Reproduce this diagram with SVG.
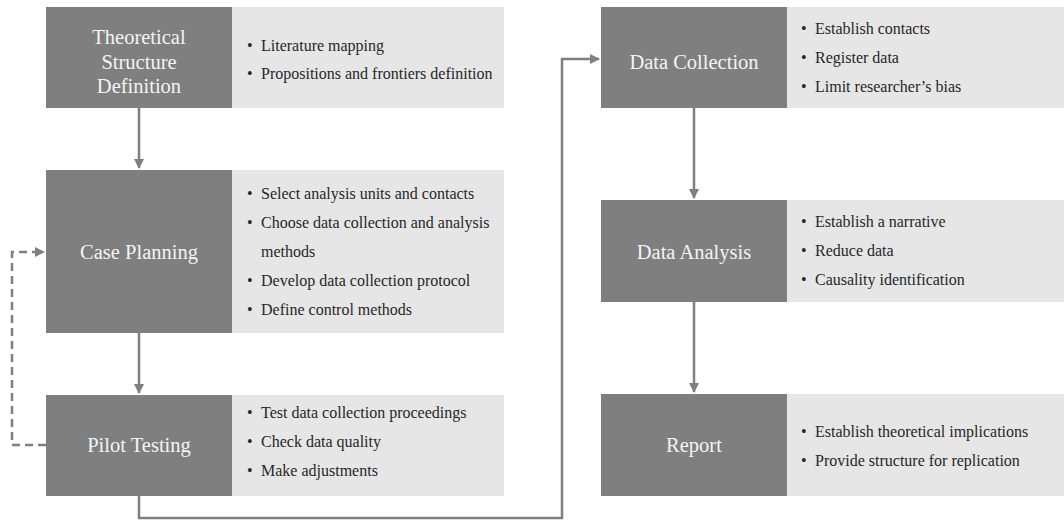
<svg xmlns="http://www.w3.org/2000/svg" width="1064" height="520" viewBox="0 0 1064 520">
<style>
.dark{fill:#7f7f7f}
.light{fill:#e6e6e6}
.title{font-family:"Liberation Serif","Times New Roman",serif;font-size:20.5px;fill:#f4f4f4;text-anchor:middle}
.item{font-family:"Liberation Serif","Times New Roman",serif;font-size:16px;fill:#262626}
.conn{fill:none;stroke:#7f7f7f;stroke-width:2.5}
.dash{stroke-dasharray:8 5}
</style>
<defs>
<marker id="ah" markerUnits="userSpaceOnUse" markerWidth="12" markerHeight="12" refX="9" refY="5" orient="auto">
<path d="M0,0 L10,5 L0,10 Z" fill="#7f7f7f"/>
</marker>
</defs>
<g id="connectors">
<path class="conn" d="M139,108 V168" marker-end="url(#ah)"/>
<path class="conn" d="M139,333 V393" marker-end="url(#ah)"/>
<path class="conn dash" d="M46,445 H12 V252 H44" marker-end="url(#ah)"/>
<path class="conn" d="M139,496 V518 H562 V59 H599" marker-end="url(#ah)"/>
<path class="conn" d="M694,108 V198" marker-end="url(#ah)"/>
<path class="conn" d="M694,302 V392" marker-end="url(#ah)"/>
</g>
<g id="theoretical">
<rect class="light" x="232" y="7" width="272" height="101"/>
<rect class="dark" x="46" y="7" width="186" height="101"/>
<text class="title" x="139" y="44">Theoretical</text>
<text class="title" x="139" y="69">Structure</text>
<text class="title" x="139" y="93">Definition</text>
<text class="item" x="247" y="51">•</text><text class="item" x="261" y="51">Literature mapping</text>
<text class="item" x="247" y="79">•</text><text class="item" x="261" y="79">Propositions and frontiers definition</text>
</g>
<g id="case-planning">
<rect class="light" x="232" y="170" width="272" height="163"/>
<rect class="dark" x="46" y="170" width="186" height="163"/>
<text class="title" x="139" y="259">Case Planning</text>
<text class="item" x="247" y="199">•</text><text class="item" x="261" y="199">Select analysis units and contacts</text>
<text class="item" x="247" y="228">•</text><text class="item" x="261" y="228">Choose data collection and analysis</text>
<text class="item" x="261" y="257">methods</text>
<text class="item" x="247" y="286">•</text><text class="item" x="261" y="286">Develop data collection protocol</text>
<text class="item" x="247" y="315">•</text><text class="item" x="261" y="315">Define control methods</text>
</g>
<g id="pilot-testing">
<rect class="light" x="232" y="395" width="272" height="101"/>
<rect class="dark" x="46" y="395" width="186" height="101"/>
<text class="title" x="139" y="452">Pilot Testing</text>
<text class="item" x="247" y="418">•</text><text class="item" x="261" y="418">Test data collection proceedings</text>
<text class="item" x="247" y="447">•</text><text class="item" x="261" y="447">Check data quality</text>
<text class="item" x="247" y="476">•</text><text class="item" x="261" y="476">Make adjustments</text>
</g>
<g id="data-collection">
<rect class="light" x="787" y="7" width="277" height="101"/>
<rect class="dark" x="601" y="7" width="186" height="101"/>
<text class="title" x="694" y="69">Data Collection</text>
<text class="item" x="801" y="34">•</text><text class="item" x="815" y="34">Establish contacts</text>
<text class="item" x="801" y="63">•</text><text class="item" x="815" y="63">Register data</text>
<text class="item" x="801" y="92">•</text><text class="item" x="815" y="92">Limit researcher’s bias</text>
</g>
<g id="data-analysis">
<rect class="light" x="787" y="200" width="277" height="102"/>
<rect class="dark" x="601" y="200" width="186" height="102"/>
<text class="title" x="694" y="259">Data Analysis</text>
<text class="item" x="801" y="227">•</text><text class="item" x="815" y="227">Establish a narrative</text>
<text class="item" x="801" y="256">•</text><text class="item" x="815" y="256">Reduce data</text>
<text class="item" x="801" y="285">•</text><text class="item" x="815" y="285">Causality identification</text>
</g>
<g id="report">
<rect class="light" x="787" y="394" width="277" height="102"/>
<rect class="dark" x="601" y="394" width="186" height="102"/>
<text class="title" x="694" y="452">Report</text>
<text class="item" x="801" y="437">•</text><text class="item" x="815" y="437">Establish theoretical implications</text>
<text class="item" x="801" y="466">•</text><text class="item" x="815" y="466">Provide structure for replication</text>
</g>
</svg>
